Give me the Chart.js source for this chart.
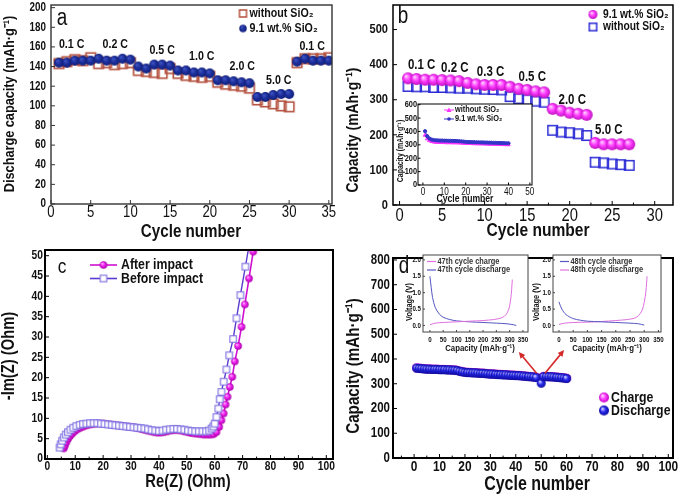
<!DOCTYPE html>
<html>
<head>
<meta charset="utf-8">
<title>SiO2 anode rate / impedance / cycling figure</title>
<script src="https://cdn.jsdelivr.net/npm/chart.js@4.4.0/dist/chart.umd.min.js"></script>
<style>
  html, body { margin: 0; padding: 0; background: #fff; }
  #fig { position: relative; width: 685px; height: 496px; overflow: hidden; }
  #fig canvas { position: absolute; left: 0; top: 0; }
</style>
</head>
<body>
<div id="fig">
  <canvas id="panelA" width="685" height="496"></canvas>
  <canvas id="panelB" width="685" height="496"></canvas>
  <canvas id="panelC" width="685" height="496"></canvas>
  <canvas id="panelD" width="685" height="496"></canvas>
  <canvas id="insetB" width="685" height="496"></canvas>
  <canvas id="insetD47" width="685" height="496"></canvas>
  <canvas id="insetD48" width="685" height="496"></canvas>
</div>
<script>
"use strict"

// ---------- panel a : rate capability ----------
const A_CYCLES = [1,2,3,4,5,6,7,8,9,10,11,12,13,14,15,16,17,18,19,20,21,22,23,24,25,26,27,28,29,30,31,32,33,34,35];
const A_WITHOUT = [143,145,147,146,149,143,144,142,143,144,136,135,134,133,138,133,131,130,129,130,124,122,121,120,118,106,104,102,100,99,144,148,148,148,149];
const A_SIO2 = [144,144,146,146,146,148,146,146,148,147,140,138,142,142,141,136,136,134,134,133,126,126,125,124,123,109,109,111,112,112,145,148,146,146,146];
const A_RATES = ['0.1 C', '0.2 C', '0.5 C', '1.0 C', '2.0 C', '5.0 C', '0.1 C'];
const A_RATE_X = [2.6, 8.1, 14, 19, 24.1, 28.7, 32.9];
const A_RATE_Y = [163, 163, 156, 150, 140, 126, 161];
const A_XTICKS = [0,5,10,15,20,25,30,35];
const A_YTICKS = [0,20,40,60,80,100,120,140,160,180,200];

// ---------- panel b : rate capability ----------
const B_CYCLES = [1,2,3,4,5,6,7,8,9,10,11,12,13,14,15,16,17,18,19,20,21,22,23,24,25,26,27];
const B_SIO2 = [361,359,357,357,356,355,353,348,344,342,342,342,337,331,328,324,321,274,269,263,260,257,177,173,173,173,173];
const B_WITHOUT = [338,337,337,335,335,334,333,333,331,330,329,328,309,303,300,296,293,213,208,206,203,198,122,120,117,115,113];
const B_RATES = ['0.1 C', '0.2 C', '0.3 C', '0.5 C', '2.0 C', '5.0 C'];
const B_RATE_X = [2.6, 6.5, 10.7, 15.6, 20.3, 24.6];
const B_RATE_Y = [400, 390, 378, 365, 299, 214];
const B_XTICKS = [0,5,10,15,20,25,30];
const B_XMINOR = [2.5,7.5,12.5,17.5,22.5,27.5];
const B_YTICKS = [0,100,200,300,400,500];

// inset of b : 40 cycles at constant rate
const BIN_CYCLES = [1,2,3,4,5,6,7,8,9,10,11,12,13,14,15,16,17,18,19,20,21,22,23,24,25,26,27,28,29,30,31,32,33,34,35,36,37,38,39,40];
const BIN_WITHOUT = [372,345,332,325,321,319,318,318,317,317,316,316,316,315,315,315,314,313,312,311,310,310,309,309,308,308,307,307,306,306,305,305,304,304,303,303,302,302,301,301];
const BIN_SIO2 = [402,365,348,340,336,334,333,332,332,331,331,330,330,329,329,328,327,326,324,322,321,321,320,320,319,319,318,318,317,317,316,316,315,315,314,314,313,313,312,312];
const BIN_XTICKS = [0,10,20,30,40,50];
const BIN_YTICKS = [0,100,200,300,400,500,600];

// ---------- panel c : Nyquist plot ----------
const C_BEFORE_RE = [4.4,4.8,5.3,5.9,6.6,7.4,8.3,9.3,10.4,11.6,12.8,14.0,15.3,16.6,17.9,19.2,20.5,21.8,23.1,24.4,25.7,27.0,28.3,29.6,30.9,32.2,33.5,34.8,36.1,37.4,38.7,40.0,41.3,42.6,43.9,45.2,46.5,47.8,49.1,50.4,51.7,53.0,54.3,55.6,56.9,58.0,58.9,59.5,60.0,60.6,61.3,61.8,62.4,63.2,64.2,65.2,66.6,67.8,69.2,71.0,72.8];
const C_BEFORE_IM = [2.8,3.6,4.5,5.3,6.0,6.6,7.2,7.7,8.1,8.4,8.6,8.7,8.8,8.8,8.8,8.7,8.6,8.5,8.4,8.3,8.2,8.1,8.0,7.9,7.8,7.7,7.6,7.5,7.3,7.1,7.0,6.9,7.0,7.2,7.3,7.4,7.4,7.3,7.2,7.0,6.9,6.8,6.8,6.8,6.8,7.0,7.5,8.0,8.7,10.3,12.4,14.7,16.5,19.0,22.0,25.5,29.5,34.6,40.3,47.3,54.5];
const C_AFTER_RE = [5.9,6.3,6.8,7.4,8.1,8.9,9.8,10.8,11.9,13.0,14.2,15.4,16.6,17.8,19.0,20.2,21.4,22.6,23.8,25.0,26.2,27.4,28.6,29.8,31.0,32.2,33.4,34.6,35.8,37.0,38.2,39.4,40.6,41.8,43.0,44.2,45.4,46.6,47.8,49.0,50.2,51.4,52.6,53.8,55.0,56.2,57.4,58.5,59.6,60.6,61.6,62.4,63.2,63.9,64.6,65.4,66.3,67.2,68.4,69.6,70.8,72.3,73.8,75.2];
const C_AFTER_IM = [2.6,3.3,4.1,4.9,5.6,6.2,6.8,7.3,7.7,8.0,8.3,8.5,8.6,8.7,8.7,8.7,8.6,8.5,8.4,8.3,8.2,8.1,8.0,7.9,7.8,7.6,7.4,7.2,7.0,6.8,6.6,6.5,6.5,6.6,6.8,7.0,7.1,7.1,7.0,6.8,6.6,6.4,6.3,6.2,6.1,6.0,6.0,6.0,6.1,6.6,7.9,9.5,11.2,13.4,15.3,17.7,20.2,24.0,27.8,32.5,38.0,44.4,51.0,57.5];
const C_XTICKS = [0,10,20,30,40,50,60,70,80,90,100];
const C_XMINOR = [5,15,25,35,45,55,65,75,85,95];
const C_YTICKS = [0,5,10,15,20,25,30,35,40,45,50];

// ---------- panel d : long cycling ----------
const D_CYCLES = [1,2,3,4,5,6,7,8,9,10,11,12,13,14,15,16,17,18,19,20,21,22,23,24,25,26,27,28,29,30,31,32,33,34,35,36,37,38,39,40,41,42,43,44,45,46,47,48,49,50,51,52,53,54,55,56,57,58,59,60];
const D_CHARGE = [364,363,362,361,360,360,359,359,359,358,358,358,357,357,356,356,354,351,349,347,346,346,345,345,344,343,343,342,341,340,340,339,338,338,337,337,336,335,335,334,334,333,332,331,330,329,328,326,null,322,330,330,329,329,328,327,326,325,324,322];
const D_DISCHARGE = [363,362,361,360,359,359,358,358,358,357,357,357,356,356,355,355,353,350,348,346,345,345,344,344,343,342,342,341,340,339,339,338,337,337,336,336,335,334,334,333,333,332,331,330,329,328,327,325,null,302,329,329,328,328,327,326,325,324,323,321];
const D_XTICKS = [0,10,20,30,40,50,60,70,80,90,100];
const D_XMINOR = [-5,5,15,25,35,45,55,65,75,85,95];
const D_YTICKS = [0,100,200,300,400,500,600,700,800];
// arrows from the cycle-48 region to the two insets [x1, y1, x2, y2] in data units
const D_ARROWS = [[48.2, 342, 41.2, 428], [51.5, 342, 59.0, 436]];

// insets of d : voltage profiles
const D47_CH_CAP = [0,20,50,100,150,200,240,265,280,292,300,306,310];
const D47_CH_V = [0.02,0.07,0.09,0.11,0.13,0.15,0.18,0.22,0.28,0.40,0.60,0.95,1.40];
const D47_DIS_CAP = [0,5,10,20,35,50,75,100,150,200,250,290,315,325];
const D47_DIS_V = [1.50,1.15,0.85,0.55,0.35,0.25,0.18,0.14,0.11,0.09,0.07,0.05,0.02,0.00];
const D48_CH_CAP = [0,10,25,50,75,100,150,200,250,280,300];
const D48_CH_V = [0.72,0.50,0.33,0.21,0.16,0.13,0.11,0.09,0.07,0.05,0.01];
const D48_DIS_CAP = [0,20,50,100,150,200,240,265,280,292,300,306,310];
const D48_DIS_V = [0.03,0.07,0.09,0.10,0.12,0.15,0.18,0.22,0.30,0.45,0.70,1.05,1.50];
const INSD_XTICKS = [0,50,100,150,200,250,300,350];
const INSD_YTICKS = [0,0.5,1.0,1.5,2.0];


const W = 685, H = 496;
const FAM = '"Liberation Sans", Arial, Helvetica, sans-serif';
const bold = s => `bold ${s}px ${FAM}`;
const norm = s => `${s}px ${FAM}`;
const SX = 0.82; // the figure uses a narrow face, squeeze text horizontally

const pts = (xs, ys) => xs.map((x, i) => ({x, y: ys[i]})).filter(p => p.y !== null);

// text helper, condensed
const label = (ctx, s, x, y, font, o = {}) => {
    ctx.save();
    ctx.font = font;
    ctx.fillStyle = o.color || '#111';
    ctx.textAlign = o.align || 'center';
    ctx.textBaseline = 'middle';
    ctx.translate(x, y);
    if (o.rot) ctx.rotate(o.rot);
    ctx.scale(o.sx || SX, 1);
    ctx.fillText(s, 0, 0);
    ctx.restore();
}

// shaded ball marker
const sphere = (d, light, mid, dark) => {
    const n = Math.ceil(d) + 2;
    const c = document.createElement('canvas');
    c.width = c.height = n;
    const g = c.getContext('2d');
    const r = d / 2, cx = n / 2, cy = n / 2;
    const gr = g.createRadialGradient(cx - r * 0.35, cy - r * 0.4, r * 0.05, cx, cy, r);
    gr.addColorStop(0, light);
    gr.addColorStop(0.5, mid);
    gr.addColorStop(1, dark);
    g.fillStyle = gr;
    g.beginPath();
    g.arc(cx, cy, r, 0, Math.PI * 2);
    g.fill();
    return c;
}

// open square marker
const square = (side, color, lw, fill) => {
    const n = Math.ceil(side + lw) + 2;
    const c = document.createElement('canvas');
    c.width = c.height = n;
    const g = c.getContext('2d');
    const o = (n - side) / 2;
    if (fill) { g.fillStyle = fill; g.fillRect(o, o, side, side); }
    g.strokeStyle = color;
    g.lineWidth = lw;
    g.strokeRect(o, o, side, side);
    return c;
}

const sprite = (ctx, img, x, y) => ctx.drawImage(img, x - img.width / 2, y - img.height / 2);

const arrow = (ctx, x1, y1, x2, y2, color) => {
    const ang = Math.atan2(y2 - y1, x2 - x1), h = 7;
    ctx.save();
    ctx.strokeStyle = color;
    ctx.fillStyle = color;
    ctx.lineWidth = 1.6;
    ctx.beginPath();
    ctx.moveTo(x1, y1);
    ctx.lineTo(x2 - Math.cos(ang) * h * 0.7, y2 - Math.sin(ang) * h * 0.7);
    ctx.stroke();
    ctx.beginPath();
    ctx.moveTo(x2, y2);
    ctx.lineTo(x2 - h * Math.cos(ang - 0.45), y2 - h * Math.sin(ang - 0.45));
    ctx.lineTo(x2 - h * Math.cos(ang + 0.45), y2 - h * Math.sin(ang + 0.45));
    ctx.closePath();
    ctx.fill();
    ctx.restore();
}

// markers
const A_DOT = sphere(10, '#4257c4', '#1d309e', '#111f78');
const A_SQ = square(9.5, '#b4503e', 1.6);
const A_DOT_LEG = sphere(7.5, '#4257c4', '#1d309e', '#111f78');
const A_SQ_LEG = square(7, '#b4503e', 1.5);
const B_BALL = sphere(12, '#ffd8ff', '#ff3cff', '#c010c0');
const B_SQ = square(9.5, '#2b2bd6', 1.5);
const B_BALL_LEG = sphere(9, '#ffd8ff', '#ff3cff', '#c010c0');
const B_SQ_LEG = square(7.5, '#2b2bd6', 1.5);
const C_BALL = sphere(7.5, '#ffb8ff', '#f020f0', '#a800a8');
const C_SQ = square(6.5, '#7a6ce0', 1.1, '#fff');
const D_BLUE = sphere(9, '#e0e0ff', '#2a2af0', '#0a0a99');
const D_PINK = sphere(9, '#ffe6ff', '#ff40ff', '#c000c0');
const D_BLUE_LEG = sphere(10, '#e0e0ff', '#2a2af0', '#0a0a99');
const D_PINK_LEG = sphere(10, '#ffe6ff', '#ff40ff', '#c000c0');

// frame, inward ticks, tick labels, titles and legends
const decor = (cfg) => ({
    id: 'decor',
    beforeDatasetsDraw(chart) {
        if (!cfg.bg) return;
        const a = chart.chartArea;
        chart.ctx.save();
        chart.ctx.fillStyle = cfg.bg;
        chart.ctx.fillRect(a.left, a.top, a.right - a.left, a.bottom - a.top);
        chart.ctx.restore();
    },
    afterDraw(chart) {
        const {ctx, chartArea: a, scales: {x, y}} = chart;
        ctx.save();
        ctx.strokeStyle = cfg.frameColor || '#000';
        ctx.lineWidth = cfg.tickWidth || 1;
        const tick = (vals, len, horiz) => vals.forEach(v => {
            ctx.beginPath();
            if (horiz) {
                const p = x.getPixelForValue(v);
                if (p < a.left || p > a.right) return;
                ctx.moveTo(p, a.bottom);
                ctx.lineTo(p, a.bottom - len);
            } else {
                const p = y.getPixelForValue(v);
                if (p < a.top || p > a.bottom) return;
                ctx.moveTo(a.left, p);
                ctx.lineTo(a.left + len, p);
            }
            ctx.stroke();
        });
        tick(cfg.xt, cfg.tickLen, true);
        tick(cfg.xm || [], cfg.tickLen * 0.6, true);
        tick(cfg.yt, cfg.tickLen, false);
        tick(cfg.ym || [], cfg.tickLen * 0.6, false);
        ctx.lineWidth = cfg.frameWidth;
        ctx.strokeRect(a.left, a.top, a.right - a.left, a.bottom - a.top);
        ctx.restore();

        const fx = cfg.fmtX || String, fy = cfg.fmtY || String;
        cfg.xt.forEach(v => label(ctx, fx(v), x.getPixelForValue(v), cfg.xLabelY, cfg.xFont));
        cfg.yt.forEach(v => label(ctx, fy(v), cfg.yLabelX, y.getPixelForValue(v), cfg.yFont, {align: 'right'}));
        (cfg.texts || []).forEach(t => label(ctx, t[0], t[1], t[2], t[3], {rot: t[4] ? -Math.PI / 2 : 0}));
        if (cfg.extra) cfg.extra(ctx, chart);
    }
});

const panel = (id, area, xr, yr, datasets, cfg) => new Chart(document.getElementById(id), {
    type: 'scatter',
    data: {datasets},
    options: {
        responsive: false,
        animation: false,
        devicePixelRatio: 1,
        events: [],
        layout: {padding: {left: area.l, top: area.t, right: W - area.r, bottom: H - area.b}},
        scales: {
            x: {type: 'linear', display: false, min: xr[0], max: xr[1]},
            y: {type: 'linear', display: false, min: yr[0], max: yr[1]}
        },
        plugins: {legend: {display: false}, tooltip: {enabled: false}}
    },
    plugins: [decor(cfg)]
});

const marks = (label, xs, ys, style, order, extra = {}) => Object.assign({
    label,
    data: pts(xs, ys),
    pointStyle: style,
    pointRadius: 4,
    showLine: false,
    order
}, extra);


// ---------- a ----------
panel('panelA', {l: 51, t: 5, r: 332, b: 204}, [0, 35.4], [0, 202.7], [
    marks('without SiO2', A_CYCLES, A_WITHOUT, A_SQ, 1),
    marks('9.1 wt.% SiO2', A_CYCLES, A_SIO2, A_DOT, 0)
], {
    frameWidth: 1.4, frameColor: '#333', tickLen: 4,
    xt: A_XTICKS, yt: A_YTICKS,
    xLabelY: 213, xFont: norm(16), yLabelX: 46, yFont: bold(12),
    texts: [
        ['Discharge capacity (mAh·g⁻¹)', 10, 104, bold(15.5), true],
        ['Cycle number', 191, 232, bold(18.5)],
        ['a', 62, 19, norm(23)]
    ],
    extra: (ctx, chart) => {
        const {x, y} = chart.scales;
        A_RATES.forEach((s, i) => label(ctx, s, x.getPixelForValue(A_RATE_X[i]), y.getPixelForValue(A_RATE_Y[i]), bold(13)));
        sprite(ctx, A_SQ_LEG, 243, 13.5);
        label(ctx, 'without SiO₂', 249.5, 13.5, bold(13), {align: 'left'});
        sprite(ctx, A_DOT_LEG, 243, 28.5);
        label(ctx, '9.1 wt.% SiO₂', 249.5, 28.5, bold(13), {align: 'left'});
    }
});

// ---------- b ----------
panel('panelB', {l: 393, t: 3, r: 673, b: 205}, [-0.77, 32.15], [0, 570], [
    marks('9.1 wt.% SiO2', B_CYCLES, B_SIO2, B_BALL, 0),
    marks('without SiO2', B_CYCLES, B_WITHOUT, B_SQ, 1)
], {
    frameWidth: 1.5, tickLen: 4,
    xt: B_XTICKS, xm: B_XMINOR, yt: B_YTICKS,
    xLabelY: 216, xFont: norm(18), yLabelX: 388, yFont: bold(13.5),
    texts: [
        ['Capacity (mAh·g⁻¹)', 353, 130, bold(17), true],
        ['Cycle number', 538, 231, bold(19)],
        ['b', 403, 17, norm(23)]
    ],
    extra: (ctx, chart) => {
        const {x, y} = chart.scales;
        B_RATES.forEach((s, i) => label(ctx, s, x.getPixelForValue(B_RATE_X[i]), y.getPixelForValue(B_RATE_Y[i]), bold(14)));
        sprite(ctx, B_BALL_LEG, 593, 14.5);
        label(ctx, '9.1 wt.% SiO₂', 603, 14.5, bold(12.5), {align: 'left'});
        sprite(ctx, B_SQ_LEG, 593, 27);
        label(ctx, 'without SiO₂', 603, 27, bold(12.5), {align: 'left'});
    }
});

// ---------- c ----------
panel('panelC', {l: 45, t: 250, r: 333, b: 459}, [-0.84, 102.4], [0, 51.4], [
    marks('Before impact', C_BEFORE_RE, C_BEFORE_IM, C_SQ, 0, {showLine: true, borderColor: '#5a3ad0', borderWidth: 1.4}),
    marks('After impact', C_AFTER_RE, C_AFTER_IM, C_BALL, 1, {showLine: true, borderColor: '#d010d0', borderWidth: 1.6})
], {
    frameWidth: 2, tickLen: 4,
    xt: C_XTICKS, xm: C_XMINOR, yt: C_YTICKS,
    xLabelY: 467, xFont: bold(12.5), yLabelX: 43, yFont: bold(12.5),
    texts: [
        ['-Im(Z) (Ohm)', 9, 356, bold(18), true],
        ['Re(Z) (Ohm)', 188, 482, bold(18)],
        ['c', 62, 267, norm(21)]
    ],
    extra: (ctx) => {
        ctx.save();
        ctx.lineWidth = 1.6;
        ctx.strokeStyle = '#d010d0';
        ctx.beginPath(); ctx.moveTo(90, 265); ctx.lineTo(117, 265); ctx.stroke();
        ctx.strokeStyle = '#5a3ad0';
        ctx.beginPath(); ctx.moveTo(90, 278.5); ctx.lineTo(117, 278.5); ctx.stroke();
        ctx.restore();
        sprite(ctx, C_BALL, 103.5, 265);
        sprite(ctx, C_SQ, 103.5, 278.5);
        label(ctx, 'After impact', 121, 265, bold(15), {align: 'left'});
        label(ctx, 'Before impact', 121, 278.5, bold(15), {align: 'left'});
    }
});

// ---------- d ----------
panel('panelD', {l: 393, t: 258, r: 673, b: 458}, [-8.3, 101.85], [0, 808], [
    marks('Discharge', D_CYCLES, D_DISCHARGE, D_BLUE, 0),
    marks('Charge', D_CYCLES, D_CHARGE, D_PINK, 1)
], {
    frameWidth: 2, tickLen: 4,
    xt: D_XTICKS, xm: D_XMINOR, yt: D_YTICKS,
    xLabelY: 467, xFont: bold(14.5), yLabelX: 390, yFont: bold(14),
    texts: [
        ['Capacity (mAh·g⁻¹)', 354, 366, bold(18.5), true],
        ['Cycle number', 537, 485, bold(19.5)],
        ['d', 404, 267, norm(23)]
    ],
    extra: (ctx, chart) => {
        const {x, y} = chart.scales;
        D_ARROWS.forEach(a => arrow(ctx, x.getPixelForValue(a[0]), y.getPixelForValue(a[1]), x.getPixelForValue(a[2]), y.getPixelForValue(a[3]), '#d42a2a'));
        sprite(ctx, D_PINK_LEG, 604, 397.5);
        label(ctx, 'Charge', 611, 397.5, bold(15), {align: 'left'});
        sprite(ctx, D_BLUE_LEG, 604, 410.5);
        label(ctx, 'Discharge', 611, 410.5, bold(15), {align: 'left'});
    }
});

// ---------- inset of b ----------
panel('insetB', {l: 418, t: 104, r: 532, b: 185}, [-2.3, 51], [0, 605], [
    marks('9.1 wt.% SiO2', BIN_CYCLES, BIN_SIO2, 'circle', 0, {showLine: true, pointRadius: 1.6, backgroundColor: '#3434c8', borderColor: '#3434c8', borderWidth: 1}),
    marks('without SiO2', BIN_CYCLES, BIN_WITHOUT, 'triangle', 1, {showLine: true, pointRadius: 2, backgroundColor: '#ff33ff', borderColor: '#ff33ff', borderWidth: 1})
], {
    bg: '#fff', frameWidth: 1, tickLen: 2.5,
    xt: BIN_XTICKS, yt: BIN_YTICKS,
    xLabelY: 192, xFont: norm(10), yLabelX: 417, yFont: bold(9),
    texts: [
        ['Capacity (mAh·g⁻¹)', 401, 151, bold(8.5), true],
        ['Cycle number', 465, 199, bold(10.5)]
    ],
    extra: (ctx) => {
        ctx.save();
        ctx.lineWidth = 1;
        ctx.strokeStyle = ctx.fillStyle = '#ff33ff';
        ctx.beginPath(); ctx.moveTo(444, 110); ctx.lineTo(454, 110); ctx.stroke();
        ctx.beginPath(); ctx.moveTo(449, 107.5); ctx.lineTo(451.5, 112); ctx.lineTo(446.5, 112); ctx.closePath(); ctx.fill();
        ctx.strokeStyle = ctx.fillStyle = '#3434c8';
        ctx.beginPath(); ctx.moveTo(444, 119); ctx.lineTo(454, 119); ctx.stroke();
        ctx.beginPath(); ctx.arc(449, 119, 1.8, 0, Math.PI * 2); ctx.fill();
        ctx.restore();
        label(ctx, 'without SiO₂', 455, 110, bold(9), {align: 'left'});
        label(ctx, '9.1 wt.% SiO₂', 455, 119, bold(9), {align: 'left'});
    }
});

// ---------- insets of d ----------
const curve = (label, xs, ys, color) => ({
    label, data: pts(xs, ys), showLine: true, pointRadius: 0,
    borderColor: color, borderWidth: 1, tension: 0.3
});
const PINK_LINE = '#e070e0', BLUE_LINE = '#5656c4';
const insetLegend = (x0, rows) => (ctx) => {
    rows.forEach((r, i) => {
        const yy = 261.5 + i * 8.5;
        ctx.save();
        ctx.strokeStyle = r[1];
        ctx.lineWidth = 1.2;
        ctx.beginPath(); ctx.moveTo(x0, yy); ctx.lineTo(x0 + 9, yy); ctx.stroke();
        ctx.restore();
        label(ctx, r[0], x0 + 10.5, yy, bold(9), {align: 'left', color: '#333'});
    });
};

panel('insetD47', {l: 423, t: 255, r: 528, b: 332}, [-26, 369], [-0.2, 2.15], [
    curve('47th cycle charge', D47_CH_CAP, D47_CH_V, PINK_LINE),
    curve('47th cycle discharge', D47_DIS_CAP, D47_DIS_V, BLUE_LINE)
], {
    bg: '#fff', frameWidth: 1, frameColor: '#444', tickLen: 2,
    xt: INSD_XTICKS, yt: INSD_YTICKS, fmtY: v => v.toFixed(1),
    xLabelY: 340, xFont: bold(7.5), yLabelX: 421, yFont: bold(7.5),
    texts: [
        ['Voltage (V)', 410, 302, bold(9), true],
        ['Capacity (mAh·g⁻¹)', 480, 348.5, bold(9.5)]
    ],
    extra: insetLegend(427, [['47th cycle charge', PINK_LINE], ['47th cycle discharge', BLUE_LINE]])
});

panel('insetD48', {l: 553, t: 255, r: 661, b: 332}, [-21, 359], [-0.2, 2.15], [
    curve('48th cycle charge', D48_CH_CAP, D48_CH_V, BLUE_LINE),
    curve('48th cycle discharge', D48_DIS_CAP, D48_DIS_V, PINK_LINE)
], {
    bg: '#fff', frameWidth: 1, frameColor: '#444', tickLen: 2,
    xt: INSD_XTICKS, yt: INSD_YTICKS, fmtY: v => v.toFixed(1),
    xLabelY: 340, xFont: bold(7.5), yLabelX: 551, yFont: bold(7.5),
    texts: [
        ['Voltage (V)', 537, 302, bold(9), true],
        ['Capacity (mAh·g⁻¹)', 607, 348.5, bold(9.5)]
    ],
    extra: insetLegend(560, [['48th cycle charge', BLUE_LINE], ['48th cycle discharge', PINK_LINE]])
});
</script>
</body>
</html>
